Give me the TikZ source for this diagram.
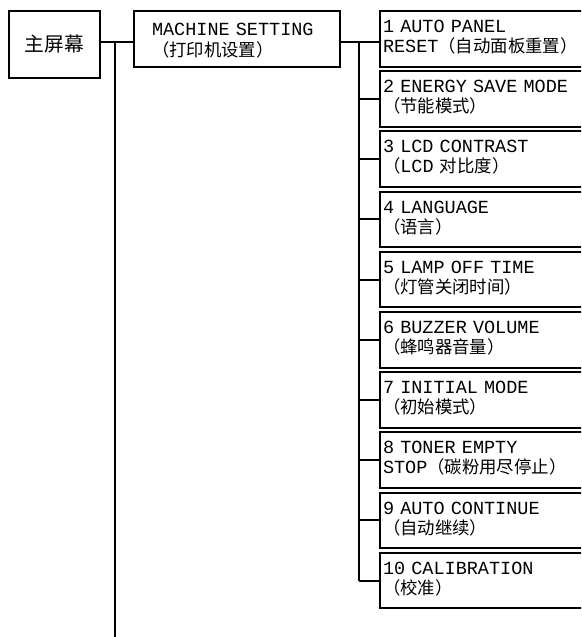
\documentclass[tikz,border=0pt]{standalone}
\usepackage{fontspec}
\setmonofont{Liberation Mono}
\newfontfamily\cjk[Scale=0.94]{Noto Sans CJK SC}

\begin{document}
\begin{tikzpicture}
[x=1pt,y=-1pt,line width=2pt,
 every node/.style={draw,rectangle,anchor=north west,inner ysep=0pt},
 mainbox/.style={minimum width=91,minimum height=67,font=\cjk\fontsize{21}{24}\selectfont},
 menubox/.style={minimum width=206,minimum height=56,text width=170,inner xsep=4,align=left,
   text height=25,text depth=31,font=\ttfamily\fontsize{18.5}{20.5}\selectfont},
 itembox/.style={minimum width=236,minimum height=55.5,text width=230,inner xsep=3,align=left,
   text height=21.5,text depth=34,font=\ttfamily\fontsize{18.5}{20}\selectfont}]
  \useasboundingbox (0,0) rectangle (581,637);
  \clip (0,0) rectangle (581,637);
  \node[mainbox] (main) at (8,10) {主屏幕};
  \node[menubox] (ms) at (133,9.5) {MACHINE SETTING\\{\cjk（打印机设置）}};
  \node[itembox] (s1) at (379,10) {1 AUTO PANEL\\RESET{\cjk（自动面板重置）}};
  \node[itembox] (s2) at (379,70.2) {2 ENERGY SAVE MODE\\{\cjk（节能模式）}};
  \node[itembox] (s3) at (379,130.4) {3 LCD CONTRAST\\{\cjk（}LCD {\cjk 对比度）}};
  \node[itembox] (s4) at (379,190.6) {4 LANGUAGE\\{\cjk（语言）}};
  \node[itembox] (s5) at (379,250.8) {5 LAMP OFF TIME\\{\cjk（灯管关闭时间）}};
  \node[itembox] (s6) at (379,311) {6 BUZZER VOLUME\\{\cjk（蜂鸣器音量）}};
  \node[itembox] (s7) at (379,371.2) {7 INITIAL MODE\\{\cjk（初始模式）}};
  \node[itembox] (s8) at (379,431.4) {8 TONER EMPTY\\STOP{\cjk（碳粉用尽停止）}};
  \node[itembox] (s9) at (379,491.6) {9 AUTO CONTINUE\\{\cjk（自动继续）}};
  \node[itembox] (s10) at (379,551.8) {10 CALIBRATION\\{\cjk（校准）}};
  \coordinate (b1) at (115,42);
  \coordinate (b2) at (359,42);
  \coordinate (bend) at (115,640);
  \draw (main.east |- b1) -- (ms.west |- b1);
  \draw (b1) -- (bend);
  \draw (ms.east |- b2) -- (s1.west |- b2);
  \draw (b2) -- (b2 |- s10.west);
  \foreach \to in {s2,s3,s4,s5,s6,s7,s8,s9,s10}
    \draw (b2 |- \to.west) -- (\to.west);
\end{tikzpicture}
\end{document}
